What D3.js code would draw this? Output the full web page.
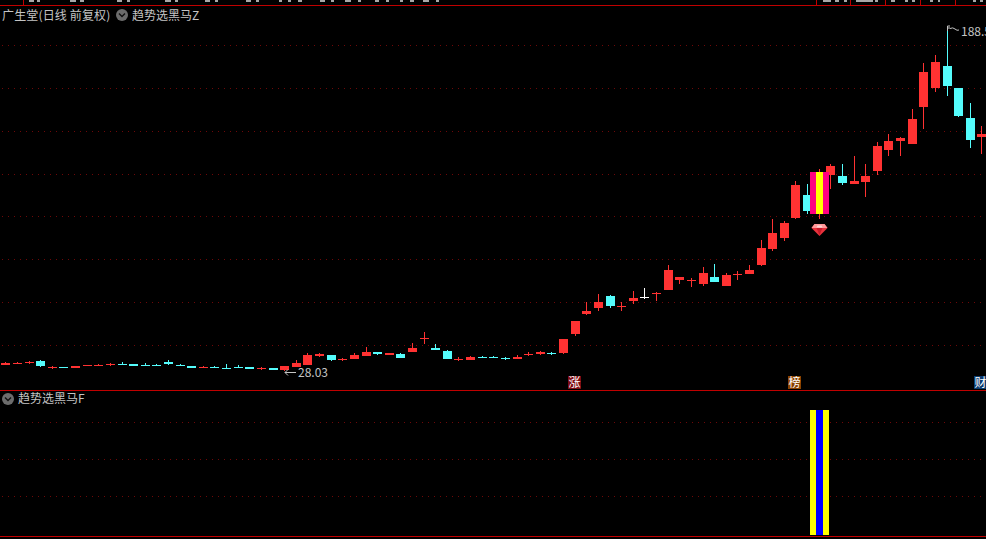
<!DOCTYPE html>
<html><head><meta charset="utf-8">
<script src="https://cdn.jsdelivr.net/npm/d3@7/dist/d3.min.js"></script>
<style>html,body{margin:0;padding:0;background:#000;overflow:hidden}svg{display:block}text{font-family:"Noto Sans CJK SC","Noto Sans",sans-serif}</style>
</head><body><svg id="c" width="986" height="539"></svg>
<script>
const opens=[30.78,31.25,31.72,32.65,29.38,29.84,29.38,30.31,30.31,30.78,31.25,31.25,30.78,30.78,32.18,30.78,30.31,29.38,29.84,29.38,29.84,29.84,28.91,29.38,28.44,29.84,30.78,34.99,35.46,33.12,33.59,34.99,36.86,35.46,35.93,36.86,42.95,38.74,37.33,33.12,33.12,34.52,34.52,34.06,33.59,35.46,35.93,36.40,36.40,45.29,54.65,57.46,63.07,57.92,60.73,62.40,64.01,65.88,70.56,70.09,68.69,71.96,67.75,72.90,73.37,77.58,85.07,90.22,99.58,110.34,101.45,119.70,119.23,115.49,116.42,121.57,131.40,135.61,134.21,151.52,160.42,170.71,160.42,146.38,137.48];
const closes=[31.72,31.72,32.18,30.31,29.84,29.38,30.31,30.78,30.78,31.25,30.78,30.31,30.31,30.31,31.25,30.31,29.38,29.84,29.38,28.91,29.38,28.91,29.38,28.44,30.31,31.72,35.46,35.93,33.12,33.59,35.46,36.86,35.93,36.40,34.06,38.74,43.42,37.80,33.59,33.59,34.52,34.06,34.06,33.59,34.52,35.93,36.86,35.93,42.95,51.37,56.05,60.26,58.39,58.39,62.14,62.40,64.48,75.24,71.96,70.56,73.84,69.62,72.90,73.37,75.24,85.54,92.56,97.24,115.02,102.85,121.10,123.91,115.96,116.89,119.23,133.27,135.61,137.02,145.91,167.90,172.58,161.35,147.31,136.08,138.89];
const highs=[32.18,32.18,32.65,33.12,30.31,29.84,30.31,30.78,31.25,31.72,32.18,31.25,31.72,31.25,33.12,31.25,30.31,30.31,30.31,31.25,30.78,29.84,29.84,29.38,30.31,33.12,36.40,36.40,35.46,34.06,36.40,39.20,36.86,36.40,36.40,41.08,46.22,40.61,37.80,34.52,34.99,34.99,34.99,34.52,35.46,36.86,37.33,36.86,42.95,51.37,60.26,64.01,63.54,60.26,65.41,66.82,64.94,77.58,71.96,71.50,76.64,78.05,73.84,74.77,77.58,89.28,99.11,98.17,116.89,115.49,122.51,124.85,124.85,128.59,124.85,135.14,138.89,137.48,150.59,172.12,175.86,188.50,160.42,153.40,142.63];
const lows=[30.78,31.25,31.25,29.84,28.91,29.38,29.38,30.31,30.31,30.31,30.78,30.31,30.31,30.31,30.78,30.31,29.38,29.38,29.38,28.91,29.38,28.91,28.44,28.44,28.03,29.84,30.78,34.52,32.65,32.65,33.59,34.99,35.46,35.46,34.06,36.86,40.61,37.80,33.59,32.65,33.12,34.06,34.06,33.12,33.59,34.99,35.46,35.46,35.93,44.35,54.18,56.05,57.46,56.05,59.33,61.67,60.73,65.88,68.69,67.28,67.75,69.62,67.75,70.56,73.37,77.11,84.13,88.81,99.11,101.45,99.11,113.15,115.02,115.49,109.40,119.70,128.59,128.59,134.21,141.23,158.54,156.67,146.84,132.34,129.53];
const priceGrid=[180.54,160.42,140.29,120.17,100.51,80.39,60.26,40.14];
const signalGrid=[0.312,0.608,0.904];
const signalIndex=[70];
const priceHigh=188.50, priceLow=28.03;
const title="广生堂(日线 前复权)", mainName="趋势选黑马Z", subName="趋势选黑马F";
const badgeNames=["涨","榜","财"], badgeIndex=[49,68,84];
const badgeColors=["#7d0c14","#8a4200","#0c3c70"];
const topDividers=[23,816,850,885,920,955];
const topFragments=[[29,5],[37,3],[70,6],[80,4],[117,5],[127,3],[165,6],[175,3],[205,5],[215,3],[246,5],[256,3],[279,3],[288,3],[298,4],[320,5],[331,3],[345,6],[358,3],[375,4],[386,3],[400,3],[410,4],[423,6],[436,3],[823,8],[835,4],[844,3],[856,17],[875,3],[891,4],[905,3],[912,3],[930,3],[938,2],[973,3],[980,3]];

const svg=d3.select("#c");
const W=986;
svg.append("rect").attr("width",W).attr("height",539).attr("fill","#000");
const x=d3.scaleLinear().domain([0,84]).range([5.3,981.4]);
const y=d3.scaleLinear().domain([28.0,188.5]).range([371,28]);
const yS=d3.scaleLinear().domain([0,1]).range([535,410]);
const RED="#ff3232",CYAN="#54fcfc",LINE="#c00000",GRID="#6e0808";
const px=i=>Math.round(x(i)), py=v=>Math.round(y(v));
const data=d3.range(opens.length).map(i=>({i,o:opens[i],c:closes[i],h:highs[i],l:lows[i]}));
const col=d=>d.c===d.o?"#ffffff":(d.c>d.o?RED:CYAN);

const g=svg.append("g").attr("shape-rendering","crispEdges");
const dotted=(vals,sc)=>g.append("g").selectAll("line").data(vals).join("line")
  .attr("x1",2).attr("x2",W).attr("y1",d=>Math.round(sc(d))+.5).attr("y2",d=>Math.round(sc(d))+.5)
  .attr("stroke",GRID).attr("stroke-dasharray","1 5");
dotted(priceGrid,y); dotted(signalGrid,yS);

// frame lines
[5,390,536].forEach(v=>g.append("rect").attr("x",0).attr("y",v).attr("width",W).attr("height",1).attr("fill",LINE));
g.append("g").selectAll("rect").data(topDividers).join("rect").attr("x",d=>d).attr("y",0).attr("width",1).attr("height",5).attr("fill",LINE);
g.append("g").selectAll("rect").data(topFragments).join("rect").attr("x",d=>d[0]).attr("y",0).attr("width",d=>d[1]).attr("height",2).attr("fill","#a8a8a8");

// candles
g.append("g").selectAll("rect").data(data).join("rect")
  .attr("x",d=>px(d.i)).attr("width",1).attr("y",d=>py(d.h)).attr("height",d=>Math.max(1,py(d.l)-py(d.h))).attr("fill",col);
g.append("g").selectAll("rect").data(data).join("rect")
  .attr("x",d=>px(d.i)-4).attr("width",9)
  .attr("y",d=>py(Math.max(d.o,d.c))).attr("height",d=>Math.max(1,py(Math.min(d.o,d.c))-py(Math.max(d.o,d.c))))
  .attr("fill",col);

// signal bars in both panes
signalIndex.forEach(i=>{
  const top=py(Math.max(opens[i],closes[i])), bot=py(Math.min(opens[i],closes[i])), c=px(i);
  g.append("rect").attr("x",c-9).attr("width",19).attr("y",top).attr("height",bot-top).attr("fill","#ff0080");
  g.append("rect").attr("x",c-3).attr("width",7).attr("y",top).attr("height",bot-top).attr("fill","#ffff00");
  g.append("rect").attr("x",c-9).attr("width",19).attr("y",yS(1)).attr("height",yS(0)-yS(1)).attr("fill","#ffff00");
  g.append("rect").attr("x",c-3).attr("width",7).attr("y",yS(1)).attr("height",yS(0)-yS(1)).attr("fill","#0000ff");
  // gem
  const gem=svg.append("g").attr("transform",`translate(${c+.5},${py(lows[i])+5})`);
  gem.append("path").attr("d","M-5,0H5L8,4L0,12L-8,4Z").attr("fill","#e8323c");
  gem.append("path").attr("d","M-5,0H5L8,4H-8Z").attr("fill","#ff9a9a");
  gem.append("path").attr("d","M-3,4H3L0,11Z").attr("fill","#c81828");
  gem.append("path").attr("d","M-2,1.5H2L3,3.5H-3Z").attr("fill","#ffd4d4");
});

const T="#c4c4c4";
const text=(s,tx,ty,size,fill)=>svg.append("text").attr("x",tx).attr("y",ty).attr("font-size",size).attr("fill",fill||T).text(s);
text(title,2,20,12).attr("letter-spacing",0.15);
text(mainName,132,20,12);
text(subName,18,403,12);
const chevron=(cx,cy)=>{
  svg.append("circle").attr("cx",cx).attr("cy",cy).attr("r",6).attr("fill","#6c6c6c");
  svg.append("path").attr("d",`M${cx-3},${cy-1.5}L${cx},${cy+1.5}L${cx+3},${cy-1.5}`).attr("fill","none").attr("stroke","#111").attr("stroke-width",1.4);
};
chevron(122,15); chevron(8,399);

// extreme labels
const hiI=highs.indexOf(priceHigh), loI=lows.indexOf(priceLow);
const hx=px(hiI), hy=py(priceHigh);
svg.append("path").attr("d",`M${hx+.5},${hy+3}V${hy-2}H${hx+3}M${hx+.5},${hy}H${hx+3}M${hx+3},${hy+.5}Q${hx+6},${hy-1} ${hx+8},${hy+1}T${hx+12},${hy+2}`)
  .attr("fill","none").attr("stroke",T).attr("stroke-width",1);
text(priceHigh.toFixed(1),hx+14,hy+8,12);
const lx=px(loI), ly=py(priceLow);
svg.append("path").attr("d",`M${lx+1},${ly+1.5}H${lx+12}M${lx+1},${ly+1.5}L${lx+4},${ly-1.5}M${lx+1},${ly+1.5}L${lx+4},${ly+4.5}`)
  .attr("fill","none").attr("stroke",T).attr("stroke-width",1);
text(priceLow.toFixed(2),lx+14,ly+6,12);

// badges
badgeNames.forEach((n,k)=>{
  const c=px(badgeIndex[k]);
  svg.append("rect").attr("x",c-7).attr("y",376).attr("width",13).attr("height",13).attr("fill",badgeColors[k]).attr("shape-rendering","crispEdges");
  svg.append("text").attr("x",c-0.5).attr("y",387).attr("text-anchor","middle").attr("font-size",12).attr("fill","#fff").text(n);
});
</script></body></html>
